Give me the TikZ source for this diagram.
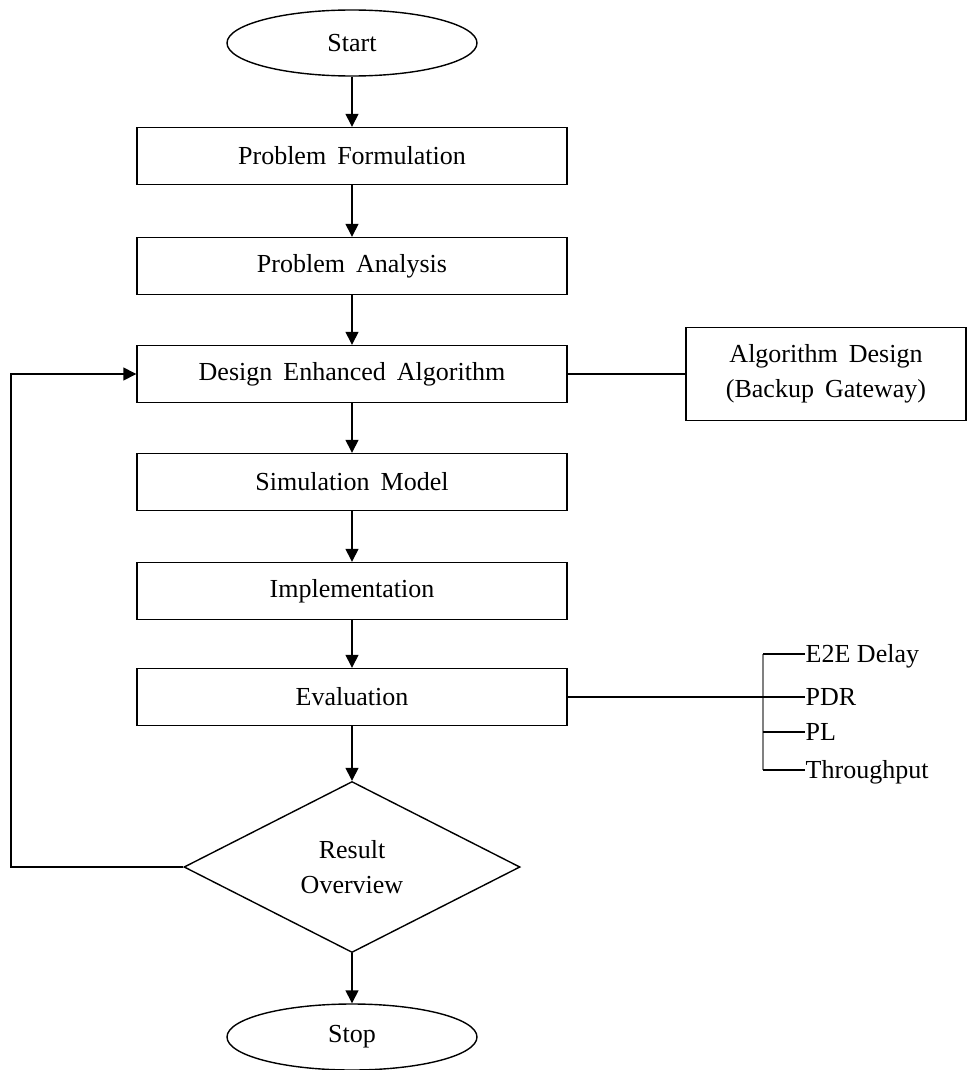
\documentclass[tikz,border=0pt]{standalone}
\usepackage{fontspec}
\setmainfont{Liberation Serif}[WordSpace=1.7]
\newfontfamily\metricfont{Liberation Serif}
\usepackage{tikz}
\usetikzlibrary{shapes.geometric,arrows.meta}

\begin{document}
\begin{tikzpicture}[x=1pt,y=-1pt,
  line width=1.4pt,
  font=\fontsize{26}{35}\selectfont,
  term/.style={ellipse,draw,minimum width=250pt,minimum height=66pt,inner sep=0pt},
  box/.style={rectangle,draw,minimum width=430pt,minimum height=57pt,inner sep=0pt},
  decide/.style={diamond,draw,minimum width=336pt,minimum height=171pt,inner sep=0pt,align=center},
  metric/.style={anchor=west,inner sep=0pt,text height=17pt,text depth=0pt,font=\metricfont\fontsize{26}{35}\selectfont},
  arr/.style={-{Triangle[length=13pt,width=13pt]}}
  ]
\useasboundingbox (0,0) rectangle (968,1070);
\def\cx{352}
\node[term] (start) at (\cx,43) {Start};
\node[box] (form) at (\cx,156) {Problem Formulation};
\node[box] (anal) at (\cx,266) {Problem Analysis};
\node[box] (design) at (\cx,374) {Design Enhanced Algorithm};
\node[box] (simu) at (\cx,482) {Simulation Model};
\node[box] (impl) at (\cx,591) {Implementation};
\node[box] (eval) at (\cx,697) {Evaluation};
\node[decide] (result) at (\cx,867) {Result\\Overview};
\node[term] (stop) at (\cx,1037) {Stop};
\node[draw,minimum width=280pt,minimum height=93pt,inner sep=0pt,align=center] (algo) at (826,374) {Algorithm Design\\(Backup Gateway)};
% main flow
\foreach \a/\b in {start/form,form/anal,anal/design,design/simu,simu/impl,impl/eval,eval/result,result/stop}
  \draw[arr] (\a) -- (\b);
% loop back
\coordinate (loop) at (11,867);
\draw[arr] (result.west) -- (loop) |- (design.west);
\draw (design.east) -- (algo.west);
% metrics
\coordinate (bartop) at (763,654);
\coordinate (barbot) at (763,770);
\draw[gray,line width=2.6pt] (bartop) -- (barbot);
\foreach \y/\n/\t in {654/e2e/E2E Delay,697/pdr/PDR,732/pl/PL,770/thr/Throughput}{
  \coordinate (b\n) at (763,\y);
  \node[metric] (\n) at (805,\y) {\t};
  \draw (b\n) -- (\n.west);
}
\draw (eval.east) -- (bpdr);
\end{tikzpicture}
\end{document}
